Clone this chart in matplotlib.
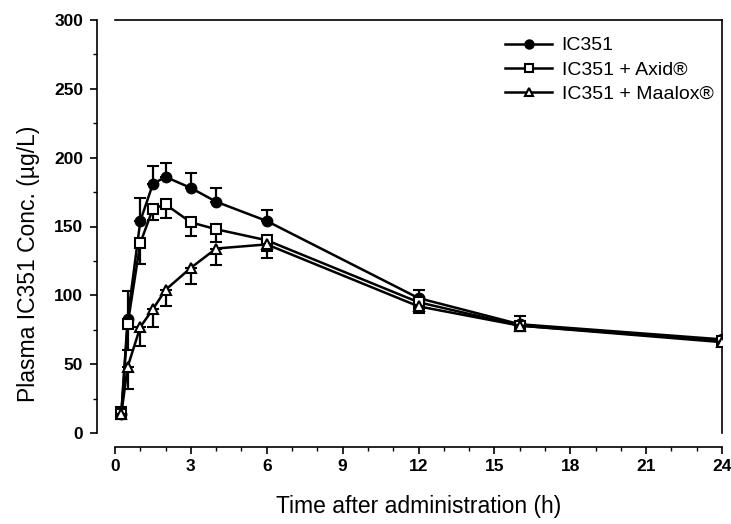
import numpy as np
import matplotlib.pyplot as plt
from matplotlib.lines import Line2D

plt.rcParams['font.family'] = ['Liberation Sans', 'DejaVu Sans']

# sampling times (h)
time_h = [0.25, 0.5, 1, 1.5, 2, 3, 4, 6, 12, 16, 24]

# mean plasma concentrations (ug/L) and SD
ic351 = [14, 83, 154, 181, 186, 178, 168, 154, 98, 79, 68]
ic351_sd = [5, 20, 17, 13, 10, 11, 10, 8, 6, 6, 2]

axid = [14, 79, 138, 163, 166, 153, 148, 140, 95, 78, 67]
axid_sd = [3, 19, 15, 8, 10, 10, 9, 8, 5, 4, 2]

maalox = [14, 48, 77, 90, 104, 120, 134, 137, 92, 78, 66]
maalox_sd = [3, 16, 14, 13, 12, 12, 12, 10, 5, 4, 2]

labels = ['IC351', 'IC351 + Axid®', 'IC351 + Maalox®']
markers = ['o', 's', '^']
faces = ['black', 'white', 'white']

fig = plt.figure(figsize=(7.31, 5.24), dpi=100)
ax = fig.add_axes([115 / 731, 91 / 524, 607 / 731, 413 / 524])

zeros = np.zeros(len(time_h))
common = dict(color='black', lw=1.8, ms=7, capsize=4, elinewidth=1.6,
              capthick=1.6, mec='black', mew=1.5)

ax.errorbar(time_h, ic351, yerr=[zeros, ic351_sd], marker=markers[0],
            mfc=faces[0], zorder=3, **common)
ax.errorbar(time_h, axid, yerr=[axid_sd, zeros], marker=markers[1],
            mfc=faces[1], zorder=4, **common)
ax.errorbar(time_h, maalox, yerr=[maalox_sd, zeros], marker=markers[2],
            mfc=faces[2], zorder=5, **common)

ax.set_xlim(0, 24)
ax.set_ylim(0, 300)
ax.set_xticks(np.arange(0, 25, 3))
ax.set_xticks(np.arange(0, 25, 1), minor=True)
ax.set_yticks(np.arange(0, 301, 50))
ax.set_yticks(np.arange(0, 301, 25), minor=True)

ax.spines['left'].set_position(('outward', 13))
ax.spines['bottom'].set_position(('outward', 10))
for s in ax.spines.values():
    s.set_linewidth(1.2)

ax.tick_params(axis='both', which='major', length=5, width=1.2,
               labelsize=12.5)
ax.tick_params(axis='y', which='major', pad=5)
ax.tick_params(axis='both', which='minor', length=3, width=1)
for lab in ax.get_xticklabels() + ax.get_yticklabels():
    lab.set_fontweight('bold')

ax.set_xlabel('Time after administration (h)', fontsize=16.5, labelpad=15)
ax.set_ylabel('Plasma IC351 Conc. (µg/L)', fontsize=16.5)
ax.yaxis.set_label_coords(-0.124, 0.41)

# legend shows plain line + marker, no error bars
handles = [Line2D([], [], color='black', lw=1.8, marker=m, ms=6,
                  mfc=f, mec='black', mew=1.5)
           for m, f in zip(markers, faces)]
ax.legend(handles, labels, loc='upper left', frameon=False,
          prop={'size': 14},
          bbox_to_anchor=(0.63, 0.978), handlelength=2.4,
          labelspacing=0.33, handletextpad=0.5, borderaxespad=0)

fig.savefig('out.png', dpi=100)
